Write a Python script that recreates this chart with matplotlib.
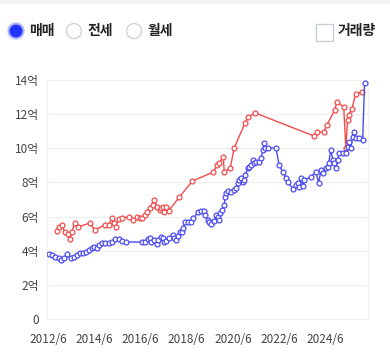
import matplotlib.pyplot as plt
from matplotlib.patches import Circle, Rectangle

plt.rcParams['font.family'] = ['Noto Sans CJK KR', 'DejaVu Sans']

# 매매 (sale) prices, 억 원, by fractional year
sale_year = [2012.54, 2012.67, 2012.80, 2012.97, 2013.06, 2013.19, 2013.32, 2013.49, 2013.62, 2013.75,
             2013.88, 2014.01, 2014.14, 2014.27, 2014.40, 2014.48, 2014.61, 2014.70, 2014.83, 2014.96,
             2015.13, 2015.26, 2015.39, 2015.56, 2015.69, 2015.86, 2016.55, 2016.68, 2016.81, 2016.90,
             2016.98, 2017.07, 2017.20, 2017.28, 2017.41, 2017.50, 2017.54, 2017.63, 2017.76, 2017.93,
             2017.97, 2018.06, 2018.15, 2018.23, 2018.32, 2018.36, 2018.41, 2018.58, 2018.71, 2018.79,
             2019.01, 2019.14, 2019.27, 2019.31, 2019.44, 2019.48, 2019.57, 2019.70, 2019.78, 2019.87,
             2019.91, 2019.96, 2020.04, 2020.13, 2020.17, 2020.22, 2020.30, 2020.43, 2020.56, 2020.65,
             2020.73, 2020.78, 2020.86, 2020.95, 2020.99, 2021.03, 2021.16, 2021.21, 2021.29, 2021.38,
             2021.42, 2021.51, 2021.64, 2021.72, 2021.81, 2021.85, 2021.90, 2022.03, 2022.37, 2022.50,
             2022.67, 2022.80, 2022.89, 2023.10, 2023.23, 2023.32, 2023.36, 2023.45, 2023.53, 2023.58,
             2023.88, 2024.09, 2024.22, 2024.31, 2024.40, 2024.52, 2024.61, 2024.65, 2024.74, 2024.83,
             2024.87, 2024.96, 2025.04, 2025.09, 2025.26, 2025.39, 2025.47, 2025.52, 2025.60, 2025.69,
             2025.73, 2025.82, 2025.94, 2026.12, 2026.20]
sale_price = [3.81, 3.75, 3.63, 3.57, 3.46, 3.57, 3.81, 3.57, 3.63, 3.75,
              3.87, 3.87, 3.93, 4.04, 4.16, 4.22, 4.16, 4.34, 4.45, 4.45,
              4.45, 4.51, 4.69, 4.69, 4.57, 4.51, 4.51, 4.51, 4.69, 4.75,
              4.51, 4.63, 4.40, 4.63, 4.80, 4.75, 4.51, 4.57, 4.75, 4.92,
              4.75, 4.63, 4.86, 5.10, 5.10, 5.33, 5.68, 5.68, 5.68, 5.92,
              6.27, 6.33, 6.33, 6.09, 5.80, 5.68, 5.57, 5.74, 6.09, 5.98,
              5.80, 6.21, 6.39, 6.68, 7.15, 7.38, 7.50, 7.44, 7.56, 7.67,
              7.97, 8.14, 8.26, 8.03, 8.14, 8.44, 8.85, 8.90, 9.02, 9.31,
              9.14, 9.20, 9.20, 9.43, 9.90, 10.31, 10.02, 10.02, 10.02, 9.02,
              8.61, 8.26, 8.03, 7.62, 7.85, 7.97, 7.73, 8.26, 7.79, 8.14,
              8.32, 8.61, 7.97, 8.73, 8.55, 8.85, 8.90, 9.14, 9.90, 9.31,
              9.14, 8.85, 9.31, 9.72, 9.72, 9.72, 10.08, 10.37, 10.02, 10.66,
              10.95, 10.60, 10.60, 10.49, 13.83]

# 전세 (lease) prices, 억 원
lease_year = [2012.89, 2012.97, 2013.10, 2013.23, 2013.36, 2013.45, 2013.53, 2013.66, 2013.79, 2014.31,
              2014.53, 2014.96, 2015.13, 2015.26, 2015.34, 2015.43, 2015.56, 2015.69, 2015.99, 2016.16,
              2016.34, 2016.47, 2016.55, 2016.68, 2016.77, 2016.90, 2017.03, 2017.11, 2017.20, 2017.33,
              2017.41, 2017.50, 2017.54, 2017.63, 2017.72, 2018.19, 2018.75, 2019.66, 2019.83, 2019.91,
              2020.09, 2020.13, 2020.39, 2020.56, 2021.03, 2021.16, 2021.47, 2024.01, 2024.14, 2024.44,
              2024.57, 2024.91, 2025.00, 2025.30, 2025.39, 2025.47, 2025.52, 2025.65, 2025.82, 2026.08]
lease_price = [5.16, 5.39, 5.51, 5.10, 4.98, 4.69, 5.10, 5.62, 5.39, 5.62,
               5.21, 5.51, 5.51, 5.92, 5.62, 5.39, 5.86, 5.92, 5.98, 5.80,
               5.98, 5.92, 5.92, 6.09, 6.27, 6.50, 6.68, 6.97, 6.56, 6.39,
               6.50, 6.56, 6.27, 6.56, 6.33, 7.15, 8.08, 8.61, 9.02, 9.14,
               9.49, 8.61, 8.85, 10.02, 11.48, 11.83, 12.07, 10.72, 10.95, 10.95,
               11.36, 12.24, 12.71, 12.42, 10.02, 11.66, 11.95, 12.30, 13.18, 13.30]

y_ticks = [0, 2, 4, 6, 8, 10, 12, 14]
y_labels = ['0', '2억', '4억', '6억', '8억', '10억', '12억', '14억']
x_ticks = [2012.5, 2014.5, 2016.5, 2018.5, 2020.5, 2022.5, 2024.5]
x_labels = ['2012/6', '2014/6', '2016/6', '2018/6', '2020/6', '2022/6', '2024/6']

fig = plt.figure(figsize=(3.9, 3.53), dpi=100)

# header controls drawn in pixel space
ui = fig.add_axes([0, 0, 1, 1])
ui.set_xlim(0, 390)
ui.set_ylim(353, 0)
ui.axis('off')
ui.add_patch(Rectangle((0, 0), 390, 4, color='#f2f2f2', lw=0))
ui.add_patch(Circle((16, 31), 7.5, facecolor='#2233ff', edgecolor='#aab4ff', lw=1.5))
ui.add_patch(Circle((74, 31), 7.5, facecolor='white', edgecolor='#cfd3da', lw=1))
ui.add_patch(Circle((134, 31), 7.5, facecolor='white', edgecolor='#cfd3da', lw=1))
ui.add_patch(Rectangle((316, 24), 17, 17, facecolor='white', edgecolor='#c8ccd4', lw=1))
ui.text(29, 31, '매매', fontsize=10, fontweight='bold', color='#222222', va='center')
ui.text(88, 31, '전세', fontsize=10, fontweight='bold', color='#222222', va='center')
ui.text(147, 31, '월세', fontsize=10, fontweight='bold', color='#222222', va='center')
ui.text(338, 31, '거래량', fontsize=10, fontweight='bold', color='#222222', va='center')

ax = fig.add_axes([47 / 390, 1 - 319 / 353, 321 / 390, 239 / 353])
ax.plot(lease_year, lease_price, '-o', color='#f24b4b', lw=1, ms=3.5,
        mfc='white', mew=0.9, zorder=3)
ax.plot(sale_year, sale_price, '-o', color='#4b4bf2', lw=1, ms=3.5,
        mfc='white', mew=0.9, zorder=3)

ax.set_xlim(2012.46, 2026.35)
ax.set_ylim(0, 14)
ax.set_yticks(y_ticks)
ax.set_yticklabels(y_labels)
ax.set_xticks(x_ticks)
ax.set_xticklabels(x_labels)
ax.tick_params(length=0, labelsize=8.5, colors='#444444')
ax.tick_params(axis='x', pad=10)
ax.tick_params(axis='y', pad=6)
ax.grid(axis='y', color='#eeeeee', lw=0.8)
for s in ax.spines.values():
    s.set_color('#f0f0f0')
    s.set_linewidth(0.8)

plt.savefig('out.png', dpi=100)
